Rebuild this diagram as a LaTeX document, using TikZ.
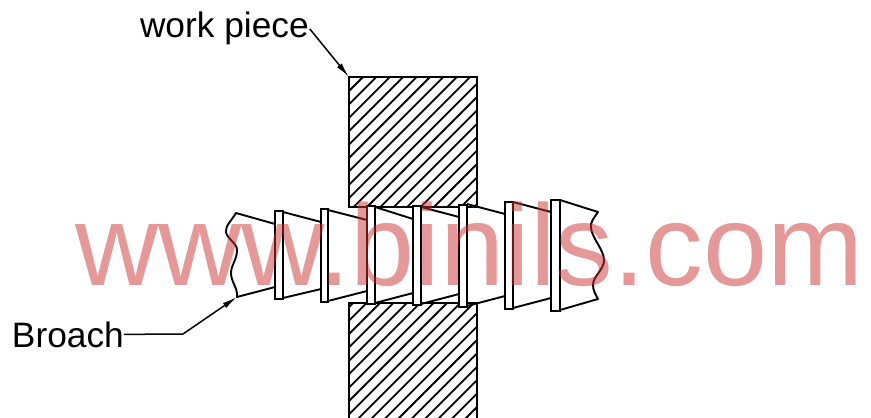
\documentclass[tikz,border=0pt]{standalone}
\usepackage{fontspec}
\setmainfont{Liberation Sans}
\usetikzlibrary{arrows.meta}
\definecolor{wmred}{RGB}{205,50,50}
\tikzset{
  x=1pt,y=-1pt,
  toothline/.style={draw=black,line width=1.9pt,line join=round},
  land/.style={draw=black,line width=2pt,fill=white,line join=miter},
  thickland/.style={land,line width=2.6pt},
  block/.style={draw=black,line width=2pt,inner sep=0pt,outer sep=0pt,minimum width=128pt,anchor=north west},
  hatch/.style={draw=black,line width=1.8pt},
  label/.style={font=\fontsize{35.3}{37}\selectfont,text=black,inner sep=0pt,outer sep=0pt,anchor=base west},
  lead/.style={draw=black,line width=1.5pt},
  tip/.style={-{Latex[length=15pt,width=6pt]}},
  wmtext/.style={font=\fontsize{115.4}{120}\selectfont,text=wmred,text opacity=.5,inner sep=0pt,outer sep=0pt,anchor=base west}
}
\begin{document}
\begin{tikzpicture}
\useasboundingbox (0,0) rectangle (871,418);
\fill[white] (0,0) rectangle (871,418);

% hatching of the work piece
\begin{scope}
\clip (349,77) rectangle (477,207);
\foreach \c in {426.6,440,...,700}{\draw[hatch] (\c-60,60) -- (\c-230,230);}
\end{scope}
\begin{scope}
\clip (349,303) rectangle (477,418);
\foreach \c in {656.2,669.6,...,910}{\draw[hatch] (\c-280,280) -- (\c-440,440);}
\end{scope}
\node[block,minimum height=130pt] (upper) at (349,77) {};
\node[block,minimum height=120pt] (lower) at (349,303) {};

% broach sections
\draw[toothline] (275,224) -- (236,213)
  .. controls (232,220) and (225,226) .. (226,232)
  .. controls (227,239) and (237,243) .. (237,250)
  .. controls (237,260) and (231,265) .. (231,273)
  .. controls (231,282) and (238,288) .. (237,297) -- (275,287);
\draw[toothline] (283,212) -- (321,222);
\draw[toothline] (283,298) -- (321,289);
\draw[toothline] (328,210) -- (367,220);
\draw[toothline] (328,301) -- (367,291);
\draw[toothline] (375,207) -- (413,219);
\draw[toothline] (375,303) -- (413,293);
\draw[toothline] (421,207) -- (459,217);
\draw[toothline] (421,304) -- (459,294);
\draw[toothline] (467,204) -- (505,214);
\draw[toothline] (467,306) -- (505,296);
\draw[toothline] (513,202) -- (551,212);
\draw[toothline] (513,308) -- (551,298);
\draw[toothline] (560,200) -- (598,212)
  .. controls (594,218) and (590,222) .. (591,228)
  .. controls (592,238) and (604,250) .. (604,260)
  .. controls (604,270) and (593,276) .. (593,285)
  .. controls (593,291) and (596,295) .. (598,299) -- (560,310);

\draw[land] (275,211) rectangle (283,299);
\draw[land] (321,209) rectangle (328,302);
\draw[land] (367,206) rectangle (375,304);
\draw[land] (413,206) rectangle (421,305);
\draw[land] (459,205) rectangle (467,307);
\draw[land] (505,202) rectangle (513,309);
\draw[thickland] (551,200) rectangle (560,311);

% labels and leaders
\node[label] (wp) at (140,37) {work piece};
\node[label] (br) at (12,347) {Broach};
\coordinate (brknee) at (183,334);
\coordinate (brend) at (237,297);
\draw[lead,tip] (wp.east) ++(1,1) coordinate (wpstart) -- (upper.north west);
\draw[lead] (br.east) -- (brknee);
\draw[lead,tip] (brknee) -- (brend);

% watermark
\node[wmtext] (wm) at (75,285) {www.binils.com};
\end{tikzpicture}
\end{document}
